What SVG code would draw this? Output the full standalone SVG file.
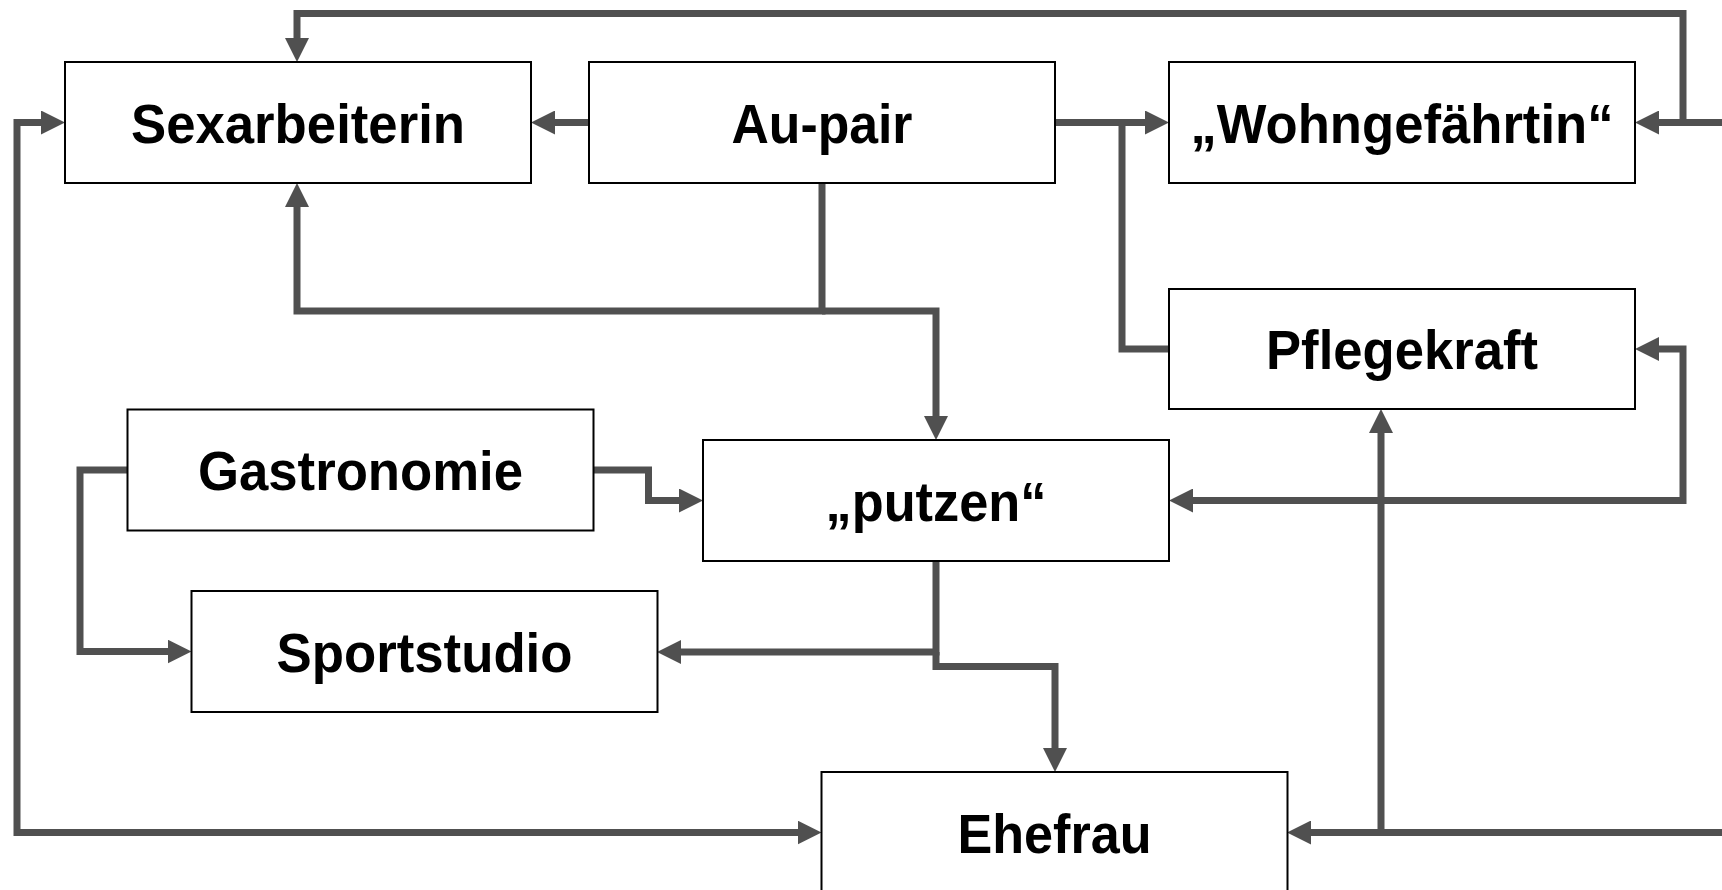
<svg xmlns="http://www.w3.org/2000/svg" width="1722" height="890" viewBox="0 0 1722 890">
<style>
.box{fill:#fff;stroke:#000;stroke-width:2}
.lbl{font-family:"Liberation Sans",Arial,sans-serif;font-weight:bold;font-size:56px;fill:#000;text-anchor:middle}
.con{fill:none;stroke:#505050;stroke-width:7;stroke-linejoin:miter;stroke-linecap:butt}
</style>
<defs>
<marker id="ah" markerUnits="userSpaceOnUse" markerWidth="24" markerHeight="24" refX="4" refY="12" orient="auto-start-reverse">
<path d="M0,0 L24,12 L0,24 z" fill="#505050"/>
</marker>
</defs>
<rect width="1722" height="890" fill="#fff"/>
<g id="connectors">
<path class="con" d="M1722,122.5 H1655" marker-end="url(#ah)"/>
<path class="con" d="M1683,122.5 V13.5 H297 V42" marker-end="url(#ah)"/>
<path class="con" d="M589,122.5 H551" marker-end="url(#ah)"/>
<path class="con" d="M1055,122.5 H1149" marker-end="url(#ah)"/>
<path class="con" d="M1169,349 H1122 V122.5"/>
<path class="con" d="M822,183 V311 H297 V203" marker-end="url(#ah)"/>
<path class="con" d="M822,311 H936 V420" marker-end="url(#ah)"/>
<path class="con" d="M593,470 H648.5 V500.5 H683" marker-end="url(#ah)"/>
<path class="con" d="M127.5,470 H80 V651.5 H171.5" marker-end="url(#ah)"/>
<path class="con" d="M936,561 V652 H677" marker-end="url(#ah)"/>
<path class="con" d="M936,652 V666.5 H1055 V752" marker-end="url(#ah)"/>
<path class="con" d="M45,122.5 H17 V832.5 H801.5" marker-start="url(#ah)" marker-end="url(#ah)"/>
<path class="con" d="M1655,349 H1683 V500.5 H1189" marker-start="url(#ah)" marker-end="url(#ah)"/>
<path class="con" d="M1722,832.5 H1307" marker-end="url(#ah)"/>
<path class="con" d="M1381,832.5 V429" marker-end="url(#ah)"/>
</g>
<g id="sexarbeiterin"><rect class="box" x="65" y="62" width="466" height="121"/><text class="lbl" x="298" y="143" textLength="334" lengthAdjust="spacingAndGlyphs">Sexarbeiterin</text></g>
<g id="aupair"><rect class="box" x="589" y="62" width="466" height="121"/><text class="lbl" x="822" y="143" textLength="181" lengthAdjust="spacingAndGlyphs">Au-pair</text></g>
<g id="wohngefaehrtin"><rect class="box" x="1169" y="62" width="466" height="121"/><text class="lbl" x="1402" y="143" textLength="423" lengthAdjust="spacingAndGlyphs">„Wohngefährtin“</text></g>
<g id="pflegekraft"><rect class="box" x="1169" y="289" width="466" height="120"/><text class="lbl" x="1402" y="369" textLength="272" lengthAdjust="spacingAndGlyphs">Pflegekraft</text></g>
<g id="gastronomie"><rect class="box" x="127.5" y="409.5" width="466" height="121"/><text class="lbl" x="360.5" y="490" textLength="325" lengthAdjust="spacingAndGlyphs">Gastronomie</text></g>
<g id="putzen"><rect class="box" x="703" y="440" width="466" height="121"/><text class="lbl" x="936" y="521" textLength="221" lengthAdjust="spacingAndGlyphs">„putzen“</text></g>
<g id="sportstudio"><rect class="box" x="191.5" y="591" width="466" height="121"/><text class="lbl" x="424.5" y="672" textLength="296" lengthAdjust="spacingAndGlyphs">Sportstudio</text></g>
<g id="ehefrau"><rect class="box" x="821.5" y="772" width="466" height="121"/><text class="lbl" x="1054.5" y="853" textLength="194" lengthAdjust="spacingAndGlyphs">Ehefrau</text></g>
</svg>
